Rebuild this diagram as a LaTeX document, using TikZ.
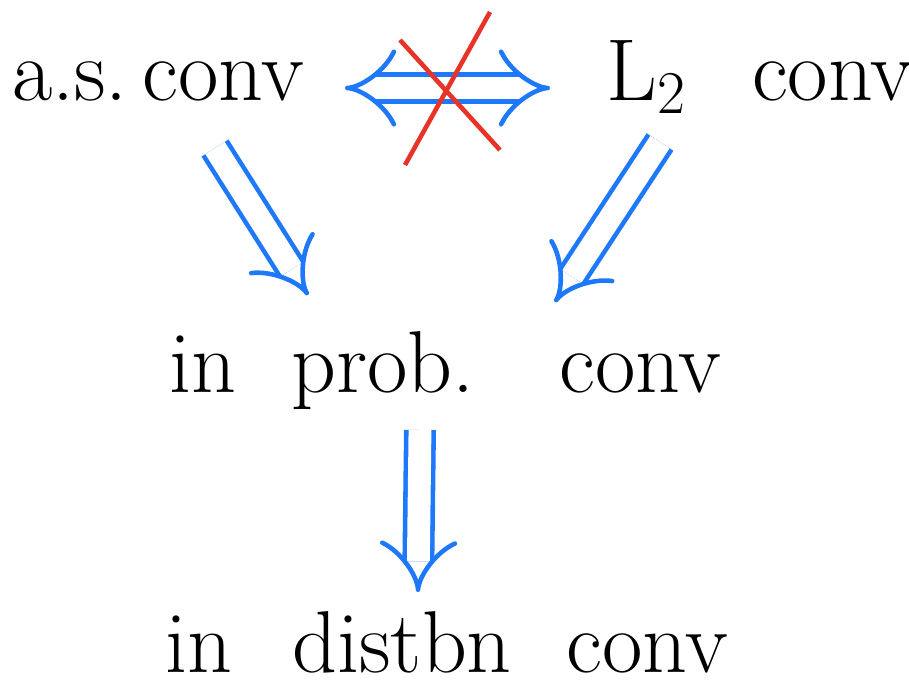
\documentclass[tikz,border=0pt]{standalone}
\usepackage{amsmath}
\usepackage{tikz}
\usetikzlibrary{arrows.meta,positioning}
\definecolor{PenBlue}{RGB}{30,120,250}
\definecolor{PenRed}{RGB}{232,52,40}

\begin{document}
\begin{tikzpicture}[
        font=\fontsize{25}{30}\selectfont,
        txt/.style={inner sep=0pt, anchor=base},
        imp/.style={double=white, double distance=6.5pt, line width=1.3pt, PenBlue, -{Implies}},
        biimp/.style={imp, {Implies}-{Implies}},
        cross/.style={PenRed, line width=1.3pt}
      ]
        \useasboundingbox (0,0) rectangle (9.09,-6.89);
        \node[txt] (as)   at (1.58,-1.0)  {a.s.\,conv};
        \node[txt] (ltwo) at (7.6,-1.0)   {L$_2$\hspace{0.65cm}conv};
        \node[txt] (prob) at (4.45,-3.92) {in\hspace{0.55cm}prob.\hspace{0.85cm}conv};
        \node[txt] (dist) at (4.47,-6.72) {in\hspace{0.6cm}distbn\hspace{0.55cm}conv};
        % arrow ends
        \coordinate (asE)   at (3.45,-0.88);
        \coordinate (ltwoW) at (5.5,-0.88);
        \coordinate (asS)   at (2.15,-1.48);
        \coordinate (probL) at (3.08,-2.95);
        \coordinate (ltwoS) at (6.6,-1.42);
        \coordinate (probR) at (5.55,-3.02);
        \coordinate (probS) at (4.2,-4.3);
        \coordinate (distN) at (4.18,-5.92);
        \draw[biimp] (asE) -- (ltwoW);
        \draw[cross] (4.05,-1.65) -- (4.9,-0.12);
        \draw[cross] (4.0,-0.4) -- (5.0,-1.5);
        \draw[imp] (asS) -- (probL);
        \draw[imp] (ltwoS) -- (probR);
        \draw[imp] (probS) -- (distN);
      \end{tikzpicture}
\end{document}
